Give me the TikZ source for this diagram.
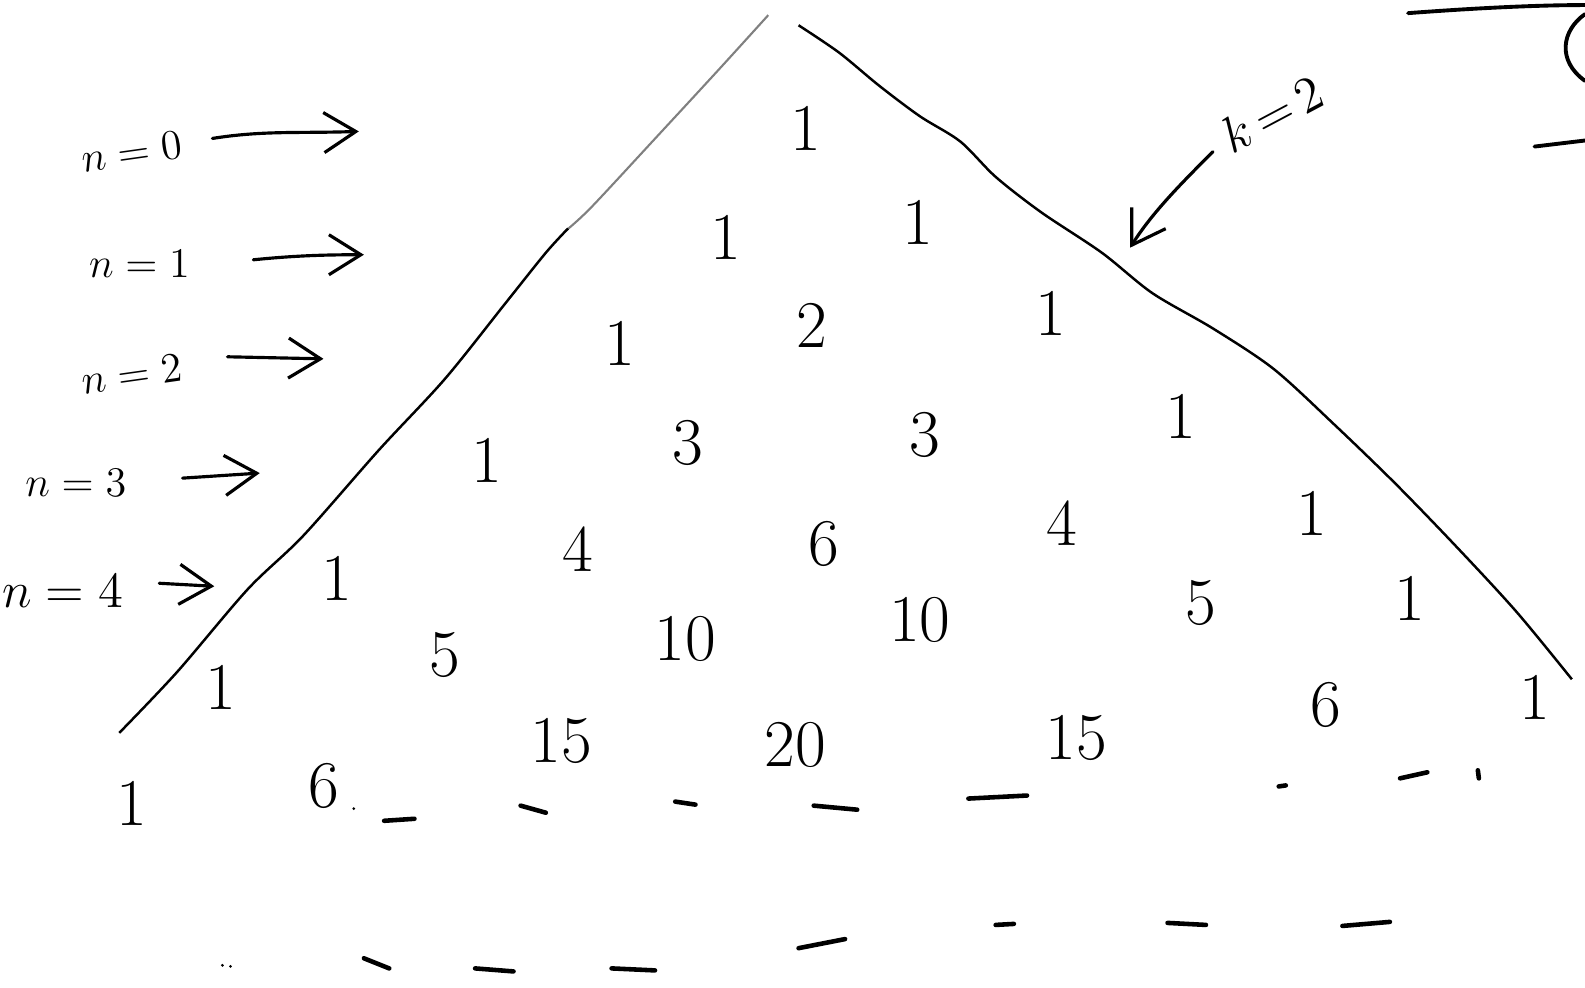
\documentclass[tikz,border=0pt]{standalone}
\usetikzlibrary{arrows.meta}
\begin{document}
\begin{tikzpicture}[x=0.010108cm,y=-0.010108cm,
  num/.style={inner sep=0pt,font=\fontsize{19}{22}\selectfont},
  lab/.style={inner sep=0pt,font=\fontsize{12}{14}\selectfont},
  pen/.style={line width=0.9pt,line cap=round,line join=round},
  harrow/.style={pen,-{Straight Barb[length=3.2mm,width=4mm]}},
  dashmark/.style={line width=1.3pt,line cap=round}]
\useasboundingbox (0,0) rectangle (1568,977);
% triangle sides
\draw[line width=0.6pt,gray] plot[smooth] coordinates {(560,228) (585,205) (650,135) (710,70) (760,15)};
\draw[line width=0.7pt] plot[smooth] coordinates {(118,725) (175,665) (245,583) (300,530) (375,445) (440,375) (500,300) (540,250) (562,226)};
\draw[line width=0.7pt] plot[smooth] coordinates {(790,25) (830,52) (870,85) (910,115) (950,140) (985,175) (1030,210) (1090,250) (1140,290) (1200,325) (1260,365) (1320,420) (1380,478) (1440,540) (1500,605) (1555,672)};
% numbers
\node[num] (r0c0) at (797,127) {1};
\node[num] (r1c0) at (718,235) {1};
\node[num] (r1c1) at (908,220) {1};
\node[num] (r2c0) at (613,340) {1};
\node[num] (r2c1) at (803,322) {2};
\node[num] (r2c2) at (1040,310) {1};
\node[num] (r3c0) at (482,455) {1};
\node[num] (r3c1) at (680,438) {3};
\node[num] (r3c2) at (915,430) {3};
\node[num] (r3c3) at (1168,412) {1};
\node[num] (r4c0) at (333,572) {1};
\node[num] (r4c1) at (572,543) {4};
\node[num] (r4c2) at (815,538) {6};
\node[num] (r4c3) at (1050,518) {4};
\node[num] (r4c4) at (1298,508) {1};
\node[num] (r5c0) at (218,680) {1};
\node[num] (r5c1) at (440,648) {5};
\node[num] (r5c2) at (678,632) {10};
\node[num] (r5c3) at (910,613) {10};
\node[num] (r5c4) at (1188,597) {5};
\node[num] (r5c5) at (1395,592) {1};
\node[num] (r6c0) at (130,795) {1};
\node[num] (r6c1) at (320,778) {6};
\node[num] (r6c2) at (555,733) {15};
\node[num] (r6c3) at (787,737) {20};
\node[num] (r6c4) at (1065,730) {15};
\node[num] (r6c5) at (1312,697) {6};
\node[num] (r6c6) at (1518,690) {1};
% row labels and arrows
\node[lab,rotate=8] (n0) at (130,150) {$n=0$};
\node[lab] (n1) at (138,261) {$n=1$};
\node[lab,rotate=8] (n2) at (130,370) {$n=2$};
\node[lab,font=\fontsize{13}{15}\selectfont] (n3) at (75,478) {$n=3$};
\node[lab,font=\fontsize{14}{16}\selectfont] (n4) at (62,585) {$n=4$};
\coordinate (a0) at (355,130);
\coordinate (a1) at (360,252);
\coordinate (a2) at (320,355);
\coordinate (a3) at (257,468);
\coordinate (a4) at (212,580);
\draw[harrow] (n0.east) ++(30,-6) .. controls +(50,-8) and +(-60,2) .. (a0);
\draw[harrow] (n1.east) ++(62,-4) .. controls +(40,-4) and +(-40,0) .. (a1);
\draw[harrow] (n2.east) ++(45,-10) -- (a2);
\draw[harrow] (n3.east) ++(55,-5) -- (a3);
\draw[harrow] (n4.east) ++(35,-8) -- (a4);
% k=2
\node[lab,rotate=28,font=\fontsize{15}{17}\selectfont] (k) at (1258,112) {$k\,{=}\,2$};
\coordinate (kt) at (1118,245);
\draw[harrow] (1200,150) .. controls (1170,180) and (1140,210) .. (kt);
% top right fragments
\draw[pen,line width=1.1pt] (1393,13) .. controls (1460,8) and (1520,5) .. (1568,5);
\draw[pen,line width=1.1pt] (1568,14) .. controls (1545,30) and (1540,60) .. (1568,80);
\draw[pen,line width=1.1pt] (1518,145) -- (1568,139);
% dashes
\foreach \a/\b in {{380,812}/{410,810},{515,797}/{540,804},{668,793}/{688,796},{805,797}/{848,801},{958,790}/{1016,787},{1265,778}/{1272,777},{1385,770}/{1412,764},{1462,762}/{1463,770},{360,948}/{385,958},{470,958}/{508,961},{605,958}/{648,960},{790,938}/{836,929},{985,915}/{1003,914},{1155,913}/{1193,915},{1328,916}/{1375,912}}
  \draw[dashmark] (\a) -- (\b);
\fill (350,800) circle (1.5);
\fill (220,955) circle (1.5);
\fill (228,956) circle (1.5);
\end{tikzpicture}
\end{document}
